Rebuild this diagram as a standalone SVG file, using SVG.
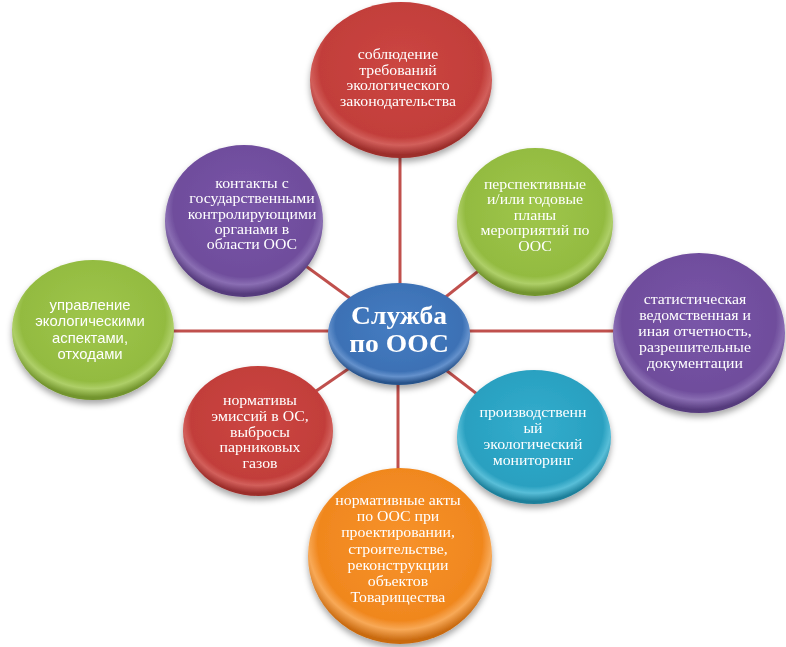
<svg xmlns="http://www.w3.org/2000/svg" width="786" height="647" viewBox="0 0 786 647">
<defs>
<filter id="sh" x="-20%" y="-20%" width="140%" height="145%">
<feDropShadow dx="0" dy="4" stdDeviation="3" flood-color="#000" flood-opacity="0.35"/>
</filter>
<radialGradient id="gRed" cx="50%" cy="42%" r="56%">
<stop offset="0" stop-color="#CC4642"/><stop offset="0.8" stop-color="#C23E3A"/><stop offset="0.89" stop-color="#D25F5B"/><stop offset="1" stop-color="#9C2D2A"/>
</radialGradient>
<radialGradient id="gPur" cx="50%" cy="42%" r="56%">
<stop offset="0" stop-color="#7955A8"/><stop offset="0.8" stop-color="#6F4D9C"/><stop offset="0.89" stop-color="#8A6EB3"/><stop offset="1" stop-color="#553A7C"/>
</radialGradient>
<radialGradient id="gGrn" cx="50%" cy="42%" r="56%">
<stop offset="0" stop-color="#9FC64A"/><stop offset="0.8" stop-color="#93BB41"/><stop offset="0.89" stop-color="#AECF68"/><stop offset="1" stop-color="#72942D"/>
</radialGradient>
<radialGradient id="gCyn" cx="50%" cy="42%" r="56%">
<stop offset="0" stop-color="#33ADCD"/><stop offset="0.8" stop-color="#29A0C0"/><stop offset="0.89" stop-color="#58BED8"/><stop offset="1" stop-color="#1C7F9A"/>
</radialGradient>
<radialGradient id="gOrg" cx="50%" cy="42%" r="56%">
<stop offset="0" stop-color="#F7922B"/><stop offset="0.8" stop-color="#F0871E"/><stop offset="0.89" stop-color="#F8A957"/><stop offset="1" stop-color="#C96A10"/>
</radialGradient>
<radialGradient id="gBlu" cx="50%" cy="42%" r="56%">
<stop offset="0" stop-color="#467DC2"/><stop offset="0.8" stop-color="#3C71B5"/><stop offset="0.89" stop-color="#6491CC"/><stop offset="1" stop-color="#27528A"/>
</radialGradient>
</defs>
<style>
.c{stroke:#C0504D;stroke-width:3;fill:none}
.t{font-family:"Liberation Serif","Times New Roman",serif;font-size:14px;fill:#fff;text-anchor:middle}
.s{font-family:"Liberation Sans",Arial,sans-serif;font-size:14px;fill:#fff;text-anchor:middle}
.m{font-family:"Liberation Serif","Times New Roman",serif;font-size:25.5px;font-weight:bold;fill:#fff;text-anchor:middle}
</style>
<rect width="786" height="647" fill="#fff"/>
<g id="connectors">
<line class="c" x1="400" y1="334" x2="400" y2="80"/>
<line class="c" x1="398" y1="334" x2="398" y2="555"/>
<line class="c" x1="399" y1="331" x2="92" y2="331"/>
<line class="c" x1="399" y1="331" x2="699" y2="331"/>
<line class="c" x1="399" y1="334" x2="244" y2="221"/>
<line class="c" x1="399" y1="334" x2="535" y2="226"/>
<line class="c" x1="399" y1="334" x2="258" y2="431"/>
<line class="c" x1="399" y1="334" x2="533" y2="437"/>
</g>
<g id="n-top" filter="url(#sh)">
<ellipse cx="401" cy="80" rx="91" ry="78" fill="url(#gRed)"/>
<text class="t" transform="translate(398 0) scale(1.13 1)"><tspan x="0" y="59">соблюдение</tspan><tspan x="0" y="75">требований</tspan><tspan x="0" y="90.5">экологического</tspan><tspan x="0" y="106">законодательства</tspan></text>
</g>
<g id="n-ul" filter="url(#sh)">
<ellipse cx="244" cy="221" rx="79" ry="76" fill="url(#gPur)"/>
<text class="t" transform="translate(252 0) scale(1.13 1)"><tspan x="0" y="188">контакты с</tspan><tspan x="0" y="203.3">государственными</tspan><tspan x="0" y="218.6">контролирующими</tspan><tspan x="0" y="233.9">органами в</tspan><tspan x="0" y="249.2">области ООС</tspan></text>
</g>
<g id="n-ur" filter="url(#sh)">
<ellipse cx="535" cy="222" rx="78" ry="74" fill="url(#gGrn)"/>
<text class="t" transform="translate(535 0) scale(1.13 1)"><tspan x="0" y="189">перспективные</tspan><tspan x="0" y="204.5">и/или годовые</tspan><tspan x="0" y="220">планы</tspan><tspan x="0" y="235.5">мероприятий по</tspan><tspan x="0" y="251">ООС</tspan></text>
</g>
<g id="n-left" filter="url(#sh)">
<ellipse cx="93" cy="330" rx="81" ry="70" fill="url(#gGrn)"/>
<text class="s" transform="translate(90 0) scale(1.06 1)"><tspan x="0" y="310">управление</tspan><tspan x="0" y="326.5">экологическими</tspan><tspan x="0" y="343">аспектами,</tspan><tspan x="0" y="359.5">отходами</tspan></text>
</g>
<g id="n-right" filter="url(#sh)">
<ellipse cx="699" cy="333" rx="86" ry="80" fill="url(#gPur)"/>
<text class="t" transform="translate(695 0) scale(1.13 1)"><tspan x="0" y="304">статистическая</tspan><tspan x="0" y="320">ведомственная и</tspan><tspan x="0" y="336">иная отчетность,</tspan><tspan x="0" y="352">разрешительные</tspan><tspan x="0" y="368">документации</tspan></text>
</g>
<g id="n-ll" filter="url(#sh)">
<ellipse cx="258" cy="431" rx="75" ry="65" fill="url(#gRed)"/>
<text class="t" transform="translate(260 0) scale(1.13 1)"><tspan x="0" y="405">нормативы</tspan><tspan x="0" y="420.8">эмиссий в ОС,</tspan><tspan x="0" y="436.6">выбросы</tspan><tspan x="0" y="452.4">парниковых</tspan><tspan x="0" y="468.2">газов</tspan></text>
</g>
<g id="n-lr" filter="url(#sh)">
<ellipse cx="534" cy="437" rx="77" ry="67" fill="url(#gCyn)"/>
<text class="t" transform="translate(533 0) scale(1.13 1)"><tspan x="0" y="417">производственн</tspan><tspan x="0" y="433">ый</tspan><tspan x="0" y="449">экологический</tspan><tspan x="0" y="465">мониторинг</tspan></text>
</g>
<g id="n-bottom" filter="url(#sh)">
<ellipse cx="400" cy="556" rx="92" ry="88" fill="url(#gOrg)"/>
<text class="t" transform="translate(398 0) scale(1.13 1)"><tspan x="0" y="505">нормативные акты</tspan><tspan x="0" y="521.2">по ООС при</tspan><tspan x="0" y="537.4">проектировании,</tspan><tspan x="0" y="553.6">строительстве,</tspan><tspan x="0" y="569.8">реконструкции</tspan><tspan x="0" y="586">объектов</tspan><tspan x="0" y="602.2">Товарищества</tspan></text>
</g>
<g id="n-center" filter="url(#sh)">
<ellipse cx="399" cy="334" rx="71" ry="51" fill="url(#gBlu)"/>
<text class="m" transform="translate(399 0) scale(1.08 1)"><tspan x="0" y="324">Служба</tspan><tspan x="0" y="352">по ООС</tspan></text>
</g>
</svg>
